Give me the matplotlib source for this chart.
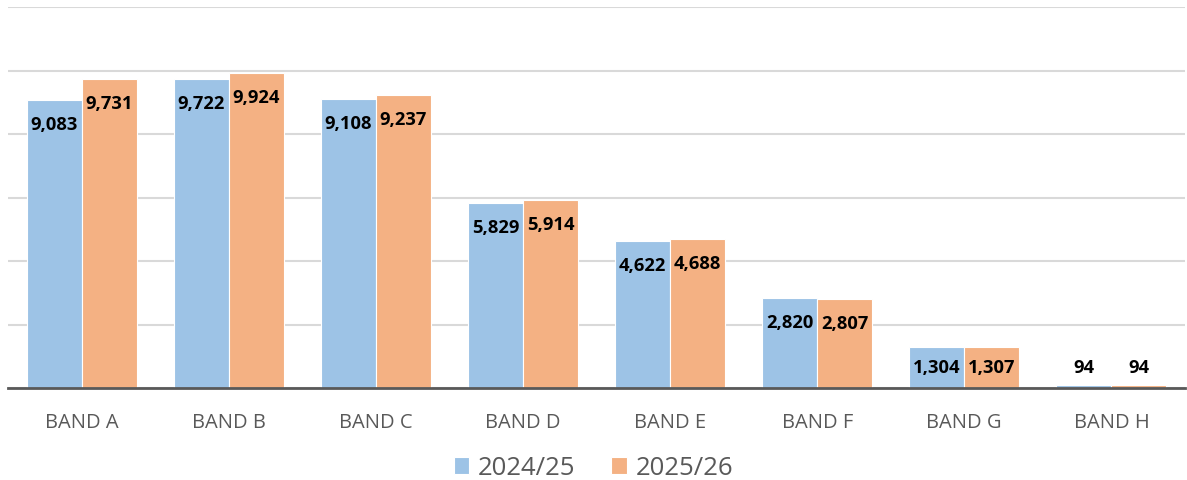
import numpy as np
import matplotlib
matplotlib.use("Agg")
import matplotlib.pyplot as plt

bands = ["BAND A", "BAND B", "BAND C", "BAND D", "BAND E", "BAND F", "BAND G", "BAND H"]
y2024 = [9083, 9722, 9108, 5829, 4622, 2820, 1304, 94]
y2025 = [9731, 9924, 9237, 5914, 4688, 2807, 1307, 94]
series_names = ["2024/25", "2025/26"]

blue = "#9DC3E6"
orange = "#F4B183"
grey_txt = "#595959"

plt.rcParams['font.family'] = ['Open Sans', 'DejaVu Sans']

fig = plt.figure(figsize=(11.87, 4.81), dpi=100)
ax = fig.add_axes([8 / 1187, 1 - 389 / 481, 1177 / 1187, 381 / 481])

x = np.arange(len(bands))
w = 0.374
b1 = ax.bar(x - w / 2, y2024, w, color=blue, edgecolor="white", linewidth=0.8, label=series_names[0], zorder=2)
b2 = ax.bar(x + w / 2, y2025, w, color=orange, edgecolor="white", linewidth=0.8, label=series_names[1], zorder=2)

ax.set_xlim(-0.5, len(bands) - 0.5)
ax.set_ylim(0, 12000)
ax.set_yticks(np.arange(0, 12001, 2000))
ax.yaxis.grid(True, color="#D9D9D9", linewidth=1.5, zorder=0)
ax.set_axisbelow(True)
ax.tick_params(axis="y", left=False, labelleft=False)
ax.tick_params(axis="x", length=0, pad=17, labelsize=14.5, labelcolor=grey_txt)
ax.set_xticks(x)
ax.set_xticklabels(bands)
for s in ["top", "left", "right"]:
    ax.spines[s].set_visible(False)
ax.spines["bottom"].set_color(grey_txt)
ax.spines["bottom"].set_linewidth(2)
ax.spines["bottom"].set_zorder(3)

# labels at inside end; short bars get lifted above the axis
for bars, vals in [(b1, y2024), (b2, y2025)]:
    for rect, v in zip(bars, vals):
        ly = max(v - 757, 662)
        ax.text(rect.get_x() + rect.get_width() / 2, ly, f"{v:,}", ha="center", va="center",
                fontsize=13.2, fontweight="bold", color="black", zorder=4)

leg = fig.legend(loc="center", bbox_to_anchor=(0.5, 1 - 469 / 481), ncol=2, frameon=False,
                 fontsize=18.5, handlelength=0.6, handleheight=0.6, handletextpad=0.35,
                 columnspacing=1.4, labelcolor=grey_txt)

fig.savefig("out.png", dpi=100)
